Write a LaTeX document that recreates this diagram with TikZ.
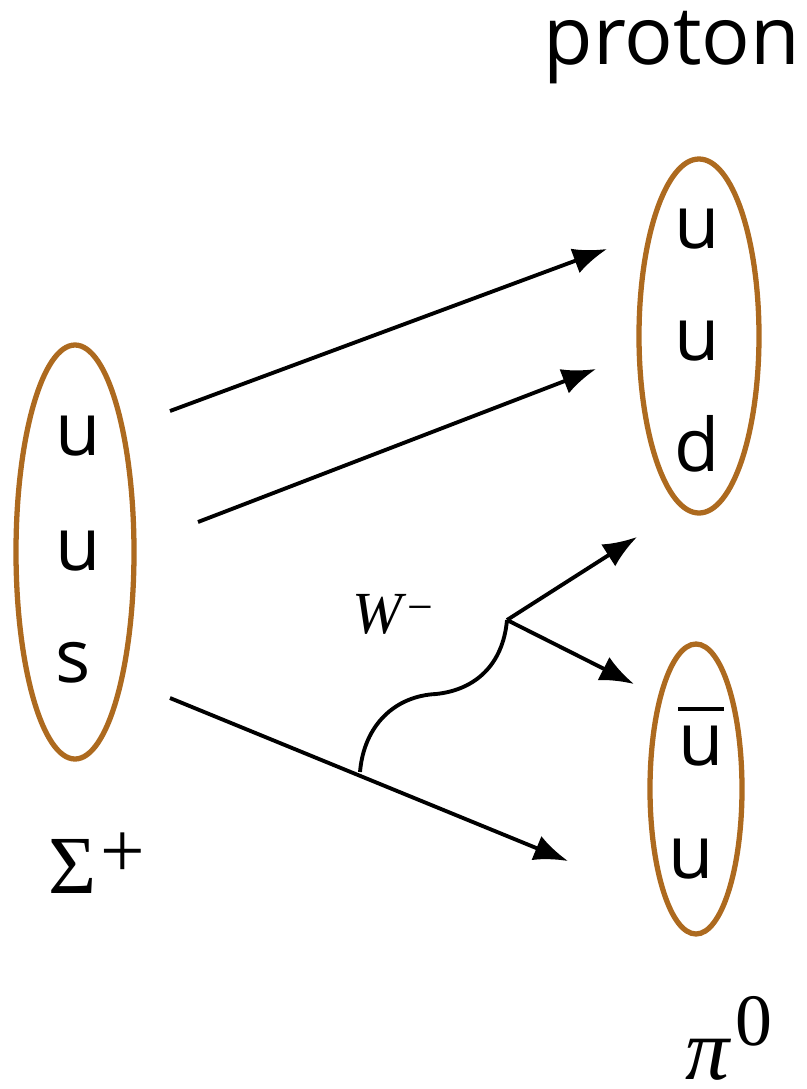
\documentclass[tikz,border=0pt]{standalone}
\usepackage{amsmath,amssymb}
\usepackage{xcolor}
\usepackage{fontspec}
\setmainfont{Open Sans}
\newfontfamily\symbfont{Liberation Serif}
\usepackage{tikz}
\usetikzlibrary{shapes.geometric,arrows.meta}
\definecolor{hadron}{HTML}{AD6A1F}

\begin{document}
\begin{tikzpicture}[x=0.02cm,y=-0.02cm]
  \tikzstyle{hadronring} = [draw=hadron, line width=3pt, ellipse, inner sep=0pt]
  \tikzstyle{quark} = [font=\fontsize{42}{42}\selectfont, inner sep=0pt, anchor=base]
  \tikzstyle{label} = [font=\fontsize{46}{46}\selectfont, inner sep=0pt, anchor=base]
  \tikzstyle{symb} = [font=\symbfont\fontsize{47}{47}\selectfont, inner sep=0pt, anchor=base]
  \tikzstyle{line} = [-{Latex[length=0.68cm,width=0.52cm]}, line width=2.2pt, black]
  \useasboundingbox (0,0) rectangle (806,1089);

  \node[hadronring, minimum width=118*0.02cm, minimum height=414*0.02cm] (sigma) at (75,552) {};
  \node[hadronring, minimum width=120*0.02cm, minimum height=354*0.02cm] (proton) at (699,336) {};
  \node[hadronring, minimum width=92*0.02cm, minimum height=290*0.02cm] (pion) at (696,789) {};

  \node[quark] (su1) at (78,455) {u};
  \node[quark] (su2) at (78,570) {u};
  \node[quark] (ss) at (73,682) {s};
  \node[quark] (pu1) at (697,248) {u};
  \node[quark] (pu2) at (697,360) {u};
  \node[quark] (pd) at (697,471) {d};
  \node[quark] (pibar) at (701,765) {\rlap{\raisebox{0.73em}{\rule{0.62em}{0.06em}}}u};
  \node[quark] (piu) at (691,878) {u};

  \node[label] (protonlabel) at (672,64) {proton};
  \node[symb] (sigmalabel) at (97,893) {Σ\kern2pt\raisebox{9pt}{\fontsize{45}{45}\selectfont +}};
  \node[symb] (pilabel) at (729,1079) {\fontsize{50}{50}\selectfont\textit{π}\kern2pt\raisebox{19pt}{\fontsize{42}{42}\selectfont 0}};
  \node[font=\symbfont\fontsize{34}{34}\selectfont, inner sep=0pt, anchor=base] (wlabel) at (393,633) {\textit{W}\raisebox{6pt}{\fontsize{26}{26}\selectfont −}};

  \coordinate (a1s) at (170,411);
  \coordinate (a1e) at (607,249);
  \coordinate (a2s) at (198,522);
  \coordinate (a2e) at (596,369);
  \coordinate (a3s) at (170,698);
  \coordinate (a3e) at (568,861);
  \coordinate (wstart) at (360,772);
  \coordinate (wend) at (507,620);
  \coordinate (a4e) at (637,537);
  \coordinate (a5e) at (634,684);

  \draw[line] (a1s) -- (a1e);
  \draw[line] (a2s) -- (a2e);
  \draw[line] (a3s) -- (a3e);
  \draw[line width=2.2pt] (wstart) .. controls (364,725) and (395,696) .. (436,694)
    .. controls (475,690) and (503,665) .. (wend);
  \draw[line] (wend) -- (a4e);
  \draw[line] (wend) -- (a5e);
\end{tikzpicture}
\end{document}
